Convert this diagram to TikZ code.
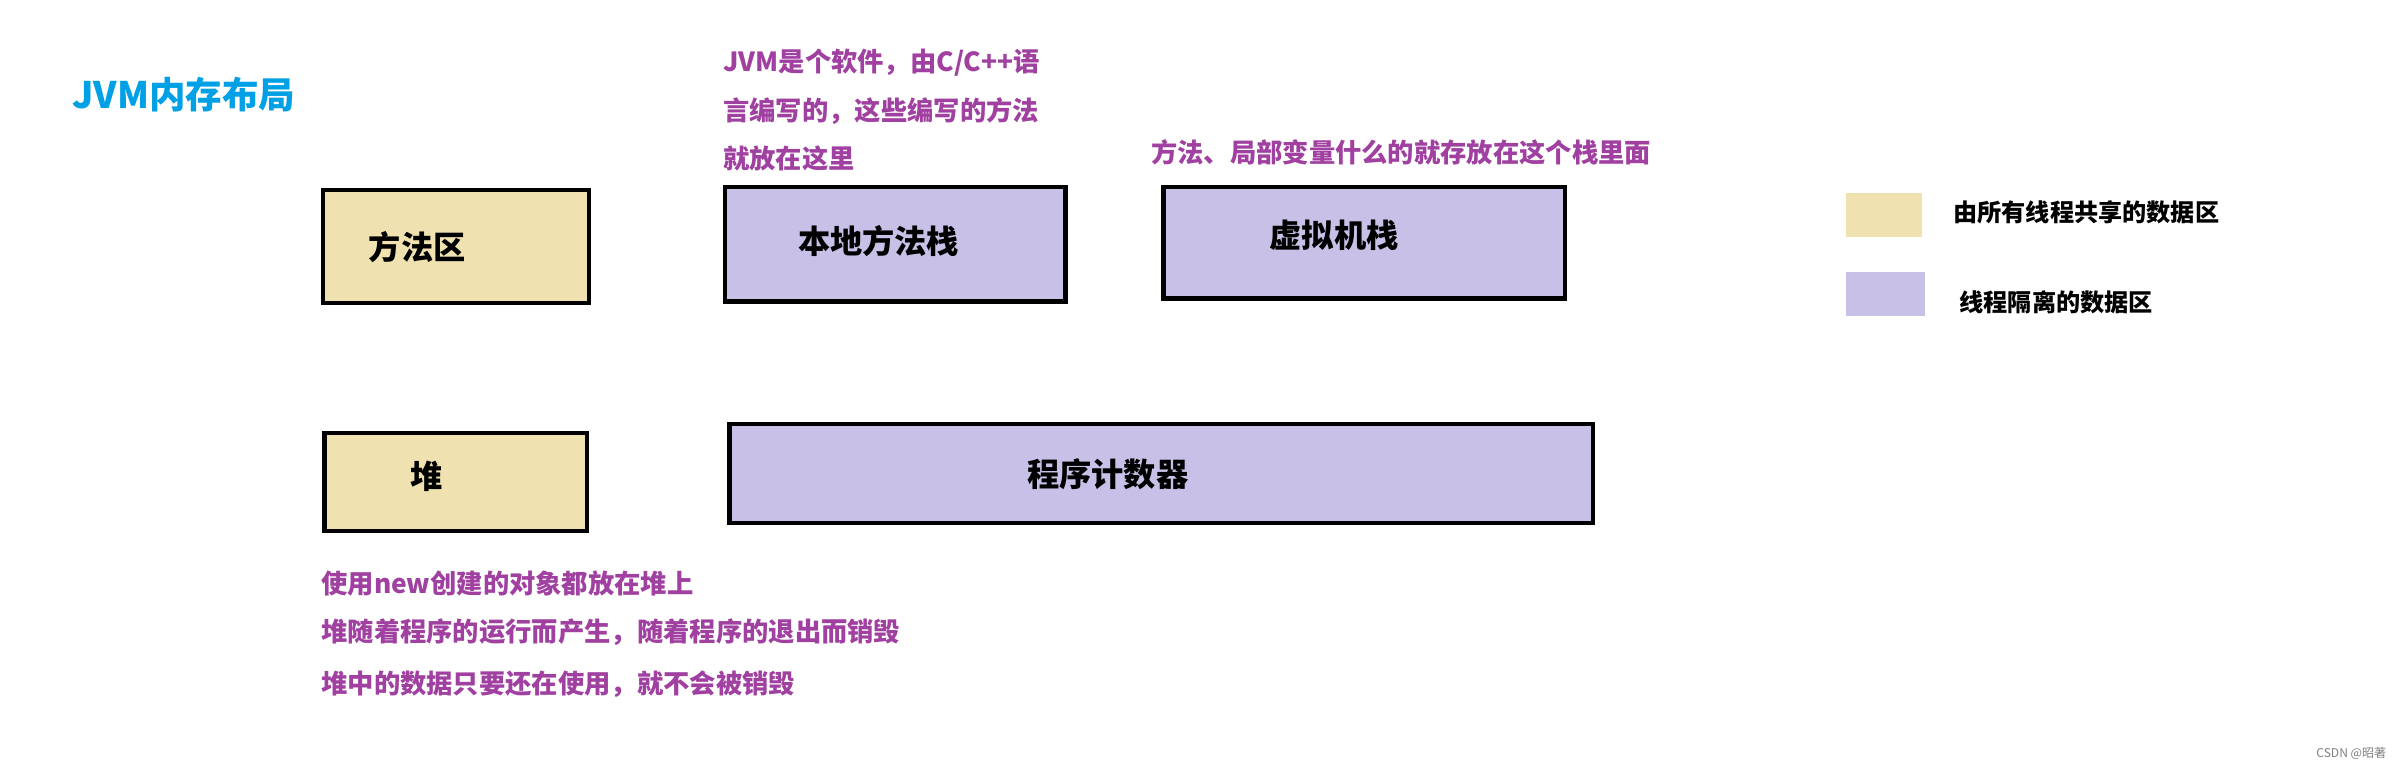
\documentclass[tikz,border=0pt]{standalone}
\usepackage{fontspec}
\setmainfont{Noto Sans CJK SC}
\usetikzlibrary{positioning}
\definecolor{shared}{RGB}{240,226,176}
\definecolor{isolated}{RGB}{200,192,230}
\definecolor{note}{RGB}{160,64,160}
\definecolor{title}{RGB}{0,160,230}
\tikzset{
  area/.style={draw=black,line width=1.6pt,anchor=north west,inner sep=0pt},
  boxtext/.style={font=\fontsize{12}{14}\selectfont\bfseries},
  notetext/.style={anchor=west,text=note,font=\fontsize{9.8}{12}\selectfont\bfseries,inner sep=0pt},
  legendtext/.style={anchor=west,font=\fontsize{9}{11}\selectfont\bfseries,inner sep=0pt}
}
\begin{document}
\begin{tikzpicture}[x=0.02cm,y=-0.02cm]
\useasboundingbox[fill=white] (0,0) rectangle (1568,503);
% title
\node (title) [anchor=west,text=title,font=\fontsize{13.6}{16}\selectfont\bfseries,inner sep=0pt] at (47,62) {JVM内存布局};
% memory areas
\node (method) [area,fill=shared,minimum width=3.48cm,minimum height=1.48cm] at (210,123) {};
\node [boxtext] at (273,162) {方法区};
\node (native) [area,fill=isolated,minimum width=4.46cm,minimum height=1.5cm] at (473,121) {};
\node [boxtext] at (575,158) {本地方法栈};
\node (vmstack) [area,fill=isolated,minimum width=5.26cm,minimum height=1.46cm] at (760,121) {};
\node [boxtext] at (873,154) {虚拟机栈};
\node (heap) [area,fill=shared,minimum width=3.44cm,minimum height=1.28cm] at (211,282) {};
\node [boxtext] at (279,312) {堆};
\node (pc) [area,fill=isolated,minimum width=11.3cm,minimum height=1.3cm] at (476,276) {};
\node [boxtext] at (725,310) {程序计数器};
% notes
\node (n1) [notetext] at (473,41) {JVM是个软件，由C/C++语};
\node (n2) [notetext] at (473,73) {言编写的，这些编写的方法};
\node (n3) [notetext] at (473,104) {就放在这里};
\node (n4) [notetext] at (753,100) {方法、局部变量什么的就存放在这个栈里面};
\node (h1) [notetext] at (210,382) {使用new创建的对象都放在堆上};
\node (h2) [notetext] at (210,414) {堆随着程序的运行而产生，随着程序的退出而销毁};
\node (h3) [notetext] at (210,448) {堆中的数据只要还在使用，就不会被销毁};
% legend
\fill[shared] (1208,126) rectangle (1258,155);
\node (l1) [legendtext] at (1278,139) {由所有线程共享的数据区};
\fill[isolated] (1208,178) rectangle (1260,207);
\node (l2) [legendtext] at (1282,198) {线程隔离的数据区};
\node (mark) [anchor=east,text=gray,font=\fontsize{4.5}{5}\selectfont,inner sep=0pt] at (1562,493) {CSDN @昭著};
\end{tikzpicture}
\end{document}
